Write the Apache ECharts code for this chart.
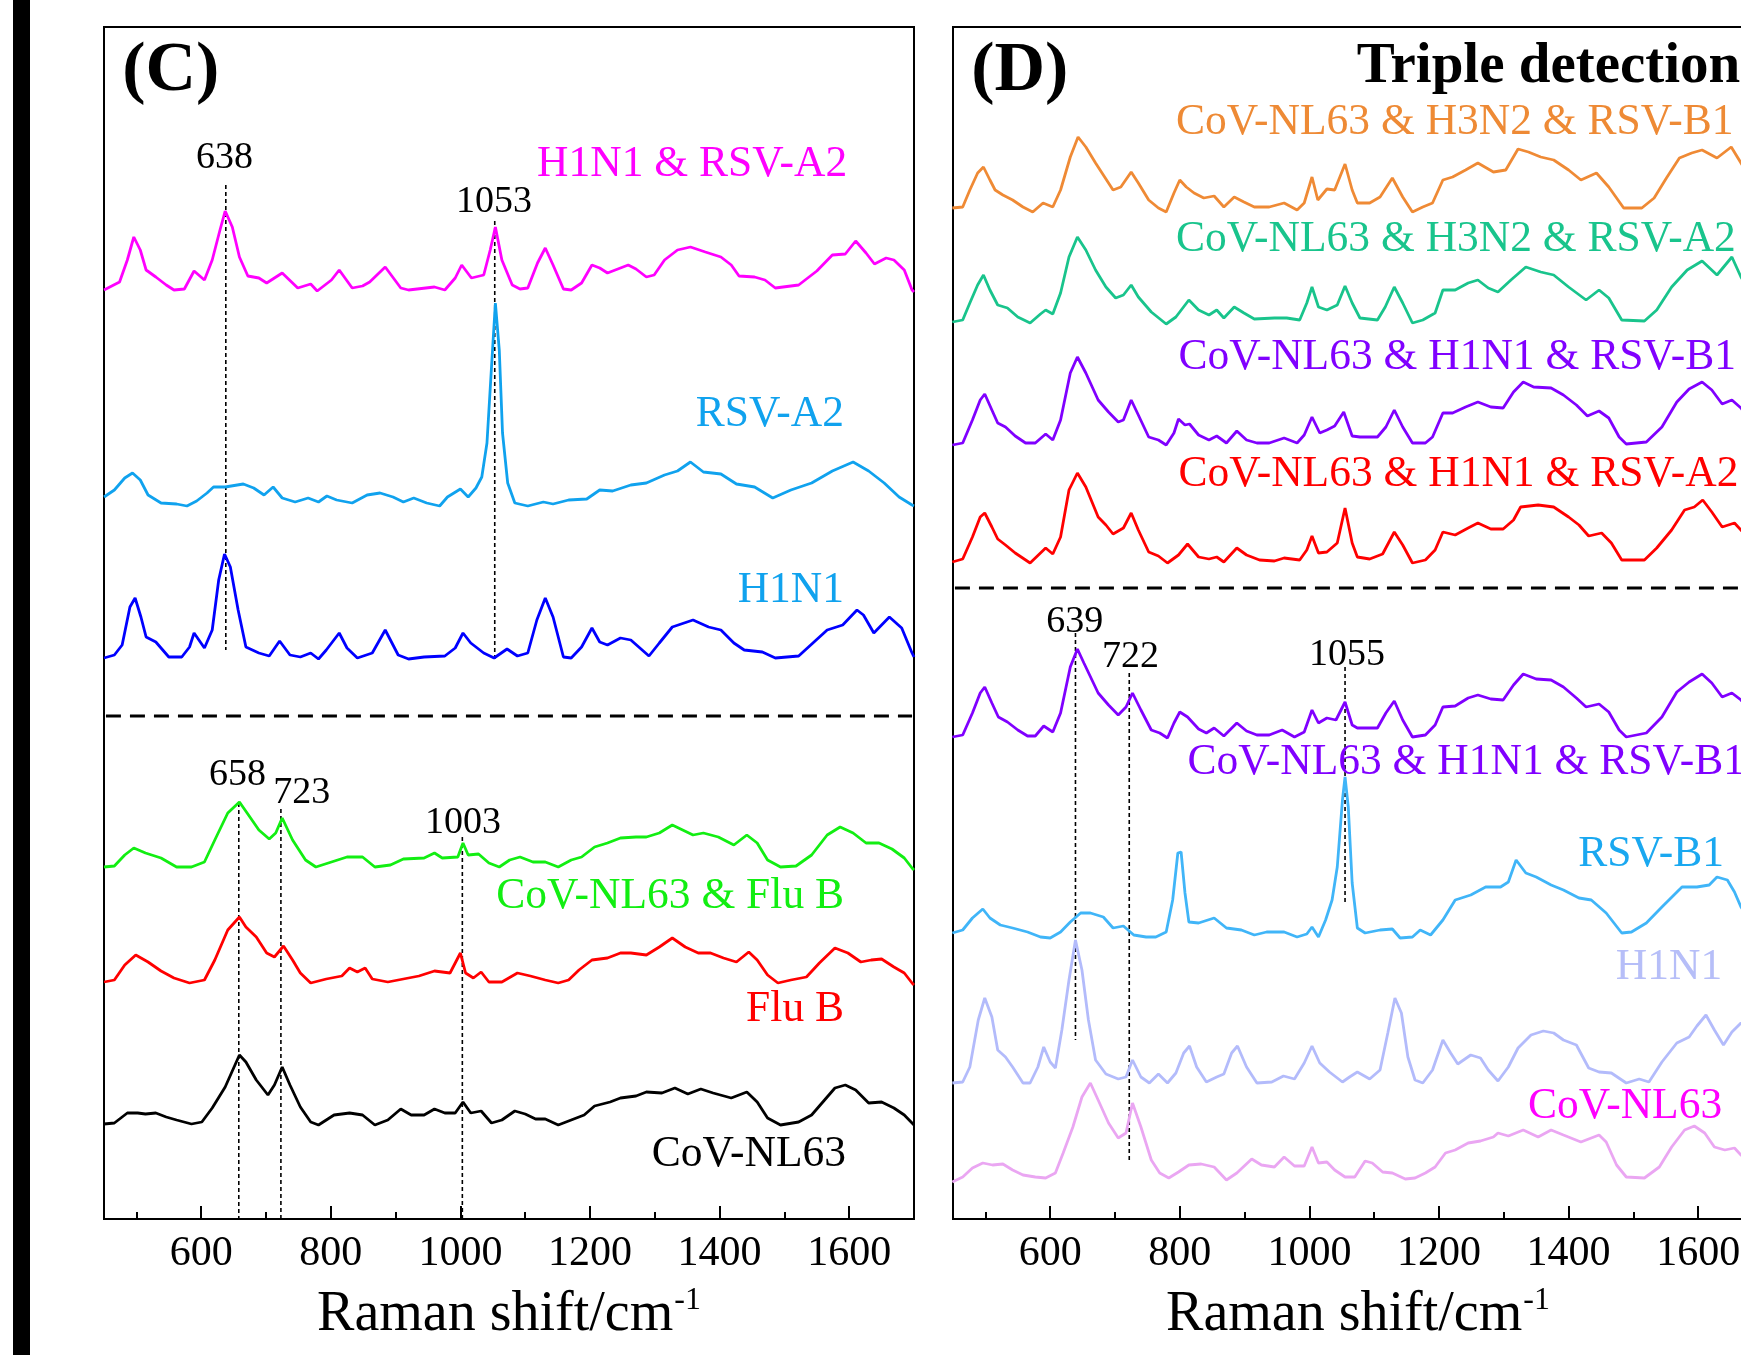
<!DOCTYPE html>
<html>
<head>
<meta charset="utf-8">
<title>Raman spectra</title>
<script src="https://cdn.jsdelivr.net/npm/echarts@6/dist/echarts.min.js"></script>
<style>
  html, body { margin: 0; padding: 0; background: #fff; }
  #chart { width: 1741px; height: 1355px; }
</style>
</head>
<body>
<div id="chart"></div>
<script>
// ---- Panel C spectra: [Raman shift (cm-1), offset intensity (a.u.)] ----
const cH1N1_RSVA2 = [[450,929],[474,937],[486,959],[496,982],[506,969],[515,949],[530,942],[546,934],[558,929],[574,930],[589,948],[605,939],[617,959],[629,989],[637,1008],[648,992],[659,962],[672,943],[689,941],[701,936],[725,946],[749,931],[769,935],[779,928],[801,939],[813,949],[833,931],[849,933],[860,937],[884,952],[908,931],[920,929],[960,932],[976,929],[992,941],[1002,954],[1017,941],[1036,944],[1046,969],[1054,992],[1064,959],[1080,934],[1092,930],[1104,931],[1119,956],[1131,971],[1143,954],[1159,930],[1171,929],[1187,936],[1203,954],[1215,951],[1227,946],[1259,954],[1271,950],[1287,942],[1299,944],[1315,959],[1335,969],[1355,972],[1378,967],[1402,962],[1418,954],[1430,943],[1454,942],[1470,939],[1486,931],[1522,934],[1550,948],[1574,964],[1594,965],[1610,978],[1626,966],[1639,955],[1657,961],[1669,959],[1685,949],[1697,929],[1700,927]];
const cRSVA2 = [[450,722],[466,729],[482,741],[494,746],[506,739],[518,724],[538,716],[562,715],[578,713],[593,718],[609,726],[619,732],[637,732],[665,735],[681,731],[697,724],[711,732],[725,721],[745,717],[765,721],[781,717],[794,723],[809,719],[833,716],[856,724],[876,726],[896,722],[912,717],[928,721],[948,716],[968,713],[980,722],[1000,730],[1012,722],[1024,731],[1033,742],[1041,776],[1048,852],[1054,916],[1060,869],[1065,786],[1073,736],[1084,716],[1104,713],[1128,717],[1143,715],[1167,719],[1195,720],[1215,729],[1235,728],[1263,734],[1287,736],[1315,744],[1335,748],[1355,757],[1375,747],[1402,745],[1426,735],[1454,732],[1482,721],[1510,729],[1542,736],[1574,748],[1606,757],[1630,748],[1654,736],[1677,722],[1697,714],[1700,713]];
const cH1N1 = [[450,561],[466,564],[478,574],[490,612],[498,621],[507,602],[515,582],[530,577],[550,562],[570,562],[582,572],[589,586],[605,571],[617,589],[627,639],[636,665],[645,652],[657,609],[669,572],[689,566],[705,563],[721,578],[737,564],[753,562],[769,566],[781,560],[793,569],[813,586],[825,571],[841,561],[864,566],[884,589],[904,564],[920,560],[944,562],[976,563],[992,571],[1004,586],[1016,576],[1036,566],[1052,561],[1072,570],[1088,563],[1104,566],[1118,599],[1131,621],[1143,602],[1159,562],[1171,561],[1187,572],[1203,591],[1215,577],[1227,574],[1247,581],[1263,579],[1291,563],[1307,576],[1327,592],[1359,599],[1383,592],[1402,589],[1422,576],[1438,569],[1466,567],[1486,561],[1522,563],[1566,589],[1590,594],[1612,609],[1622,604],[1638,586],[1662,602],[1681,591],[1697,566],[1700,562]];
const cNL63_FluB = [[450,352],[466,353],[482,364],[496,371],[514,366],[538,361],[562,352],[585,352],[605,357],[621,379],[641,406],[659,417],[673,404],[689,389],[705,380],[715,386],[725,401],[741,379],[761,359],[777,352],[801,357],[825,362],[849,362],[868,352],[892,354],[912,360],[944,361],[960,366],[972,361],[996,362],[1004,376],[1012,364],[1028,365],[1044,356],[1060,352],[1076,359],[1092,362],[1112,357],[1131,357],[1151,352],[1171,359],[1187,362],[1207,372],[1227,376],[1247,381],[1271,382],[1287,382],[1307,386],[1327,394],[1343,389],[1359,384],[1375,386],[1398,382],[1422,374],[1442,384],[1458,376],[1474,359],[1494,352],[1518,353],[1542,364],[1566,384],[1586,392],[1606,386],[1626,376],[1646,376],[1666,370],[1685,361],[1697,351],[1700,349]];
const cFluB = [[450,237],[466,239],[482,254],[499,264],[518,257],[538,248],[558,241],[582,236],[605,239],[621,259],[641,289],[659,302],[669,292],[685,282],[701,266],[713,262],[727,273],[741,259],[753,246],[769,236],[793,240],[817,243],[829,251],[841,247],[853,251],[864,240],[888,237],[912,240],[936,243],[960,248],[984,246],[1000,266],[1008,246],[1020,241],[1032,247],[1044,237],[1064,237],[1088,246],[1108,243],[1131,239],[1151,236],[1167,239],[1183,249],[1203,259],[1227,261],[1247,266],[1263,266],[1287,264],[1307,272],[1327,281],[1347,272],[1367,266],[1386,266],[1406,261],[1426,257],[1445,267],[1458,259],[1474,244],[1490,236],[1510,239],[1534,242],[1554,256],[1578,271],[1598,266],[1618,257],[1634,259],[1650,260],[1669,252],[1685,246],[1697,236],[1700,234]];
const cNL63 = [[450,95],[466,96],[486,106],[502,106],[514,105],[530,106],[546,102],[562,99],[585,95],[601,97],[617,111],[637,132],[659,164],[669,157],[685,139],[703,124],[713,134],[725,152],[737,134],[753,112],[769,97],[781,94],[805,104],[829,106],[849,104],[868,94],[888,99],[908,110],[924,104],[944,104],[960,110],[976,106],[992,106],[1004,117],[1016,106],[1032,108],[1048,96],[1064,99],[1084,108],[1100,105],[1116,100],[1131,100],[1151,94],[1171,99],[1191,104],[1207,113],[1231,117],[1247,121],[1271,123],[1287,127],[1311,126],[1331,131],[1351,125],[1371,130],[1390,126],[1418,121],[1442,127],[1458,117],[1474,101],[1494,94],[1522,97],[1542,104],[1562,119],[1578,131],[1594,134],[1610,129],[1630,116],[1650,117],[1669,111],[1685,104],[1697,96],[1700,94]];

// ---- Panel D spectra ----
const dNL63_H3N2_RSVB1 = [[449,1011],[465,1012],[476,1029],[488,1046],[497,1052],[507,1039],[515,1029],[527,1024],[542,1019],[558,1012],[573,1007],[589,1016],[604,1012],[616,1029],[631,1062],[643,1082],[655,1072],[670,1056],[682,1044],[697,1029],[709,1032],[725,1047],[736,1036],[752,1019],[767,1011],[779,1007],[791,1026],[800,1039],[810,1032],[822,1026],[837,1021],[853,1023],[868,1012],[884,1022],[899,1017],[915,1012],[938,1012],[961,1016],[981,1009],[992,1016],[1004,1042],[1013,1019],[1027,1030],[1039,1029],[1055,1055],[1066,1029],[1074,1016],[1093,1016],[1109,1022],[1128,1041],[1144,1022],[1159,1007],[1175,1012],[1190,1016],[1206,1039],[1221,1042],[1241,1049],[1260,1056],[1284,1047],[1303,1049],[1322,1070],[1338,1067],[1357,1062],[1377,1059],[1400,1049],[1419,1039],[1443,1046],[1462,1032],[1485,1011],[1513,1011],[1532,1021],[1551,1041],[1571,1061],[1590,1066],[1606,1069],[1629,1061],[1651,1072],[1666,1056],[1690,1030]];
const dNL63_H3N2_RSVA2 = [[449,897],[465,899],[476,916],[488,934],[497,944],[507,929],[519,914],[534,911],[550,902],[569,896],[585,905],[593,909],[604,905],[616,926],[629,962],[642,982],[655,969],[670,949],[686,932],[701,921],[713,924],[725,934],[736,922],[756,907],[779,895],[794,902],[814,919],[829,909],[845,904],[857,909],[868,901],[884,912],[899,906],[915,900],[946,901],[965,901],[985,899],[996,916],[1004,932],[1014,912],[1027,909],[1043,914],[1055,933],[1066,916],[1078,901],[1105,899],[1117,912],[1131,932],[1144,916],[1159,896],[1175,899],[1194,906],[1206,929],[1225,929],[1245,936],[1260,939],[1276,931],[1291,927],[1311,939],[1334,952],[1357,947],[1377,944],[1400,932],[1427,919],[1447,929],[1462,921],[1482,899],[1517,898],[1536,909],[1559,932],[1583,949],[1606,958],[1629,944],[1652,962],[1666,942],[1690,915]];
const dNL63_H1N1_RSVB1 = [[449,774],[465,776],[480,799],[492,819],[499,825],[510,809],[519,796],[531,792],[546,783],[562,776],[577,776],[593,785],[604,779],[616,799],[631,846],[642,862],[655,846],[674,819],[690,807],[705,797],[713,799],[725,819],[736,804],[752,782],[767,779],[779,774],[791,786],[798,800],[808,794],[815,795],[829,784],[845,779],[857,783],[872,776],[888,788],[903,779],[919,776],[938,776],[961,781],[981,776],[992,784],[1004,802],[1016,786],[1027,789],[1039,793],[1053,807],[1066,783],[1078,782],[1105,782],[1118,792],[1131,809],[1144,792],[1159,776],[1179,776],[1190,782],[1206,806],[1221,806],[1241,812],[1260,817],[1280,812],[1299,811],[1315,827],[1330,837],[1346,832],[1373,831],[1392,824],[1412,814],[1429,803],[1447,808],[1462,801],[1478,782],[1489,775],[1520,777],[1544,792],[1567,817],[1586,830],[1606,837],[1621,829],[1637,815],[1652,819],[1666,811],[1690,790]];
const dNL63_H1N1_RSVA2 = [[449,657],[465,660],[480,682],[492,702],[499,706],[510,692],[519,680],[531,674],[546,666],[569,656],[585,666],[593,671],[604,665],[616,682],[629,729],[642,746],[655,732],[674,702],[686,694],[697,685],[713,691],[725,706],[736,689],[752,667],[767,663],[781,656],[798,664],[812,675],[829,662],[845,660],[857,662],[868,657],[888,671],[903,664],[923,659],[946,658],[961,661],[985,659],[996,669],[1004,683],[1014,666],[1027,667],[1043,676],[1055,711],[1066,676],[1074,662],[1093,660],[1113,665],[1131,687],[1144,674],[1159,656],[1179,659],[1194,669],[1206,687],[1225,684],[1245,691],[1260,696],[1280,690],[1299,690],[1315,699],[1326,712],[1353,714],[1377,712],[1400,702],[1416,694],[1431,683],[1451,686],[1466,676],[1482,659],[1517,659],[1536,671],[1559,689],[1579,709],[1594,712],[1607,719],[1621,707],[1637,692],[1656,696],[1666,689],[1690,670]];
const dNL63_H1N1_RSVB1_ref = [[449,482],[465,484],[480,506],[492,526],[499,532],[510,516],[520,502],[534,497],[550,489],[565,483],[577,483],[590,493],[604,487],[616,506],[631,552],[642,570],[652,556],[674,526],[690,514],[705,504],[717,512],[727,526],[740,509],[756,489],[769,486],[781,481],[791,496],[800,507],[812,502],[829,490],[841,486],[853,491],[868,483],[888,496],[903,488],[919,484],[938,484],[958,489],[977,482],[992,487],[1004,509],[1014,496],[1027,501],[1041,499],[1055,517],[1066,494],[1074,491],[1105,491],[1118,506],[1131,518],[1144,499],[1159,482],[1179,484],[1194,494],[1206,512],[1225,513],[1245,521],[1260,524],[1280,520],[1299,519],[1315,534],[1330,545],[1350,540],[1373,539],[1392,532],[1412,521],[1427,512],[1447,515],[1462,507],[1478,489],[1489,482],[1520,486],[1544,502],[1567,527],[1586,537],[1606,545],[1621,536],[1637,522],[1652,526],[1666,519],[1690,500]];
const dRSVB1 = [[449,286],[465,289],[480,301],[496,310],[507,301],[523,294],[542,291],[565,287],[585,282],[600,281],[616,287],[631,297],[647,306],[662,306],[682,302],[697,291],[713,293],[729,284],[748,282],[763,282],[779,287],[789,319],[797,366],[802,367],[808,326],[814,297],[829,296],[853,301],[872,291],[895,289],[915,284],[934,287],[961,287],[981,282],[996,285],[1004,292],[1014,282],[1025,299],[1035,319],[1043,352],[1051,419],[1055,442],[1060,412],[1066,336],[1074,291],[1086,286],[1109,289],[1128,290],[1140,281],[1159,282],[1171,289],[1187,284],[1206,299],[1225,319],[1249,324],[1272,332],[1295,332],[1307,337],[1319,359],[1334,346],[1350,342],[1373,334],[1392,329],[1416,321],[1435,319],[1458,306],[1482,286],[1497,287],[1520,296],[1544,312],[1575,332],[1598,332],[1617,334],[1629,342],[1645,339],[1656,327],[1666,312],[1690,290]];
const dH1N1 = [[449,136],[465,137],[476,152],[489,199],[499,221],[510,202],[519,169],[531,162],[542,152],[558,136],[569,136],[581,152],[590,172],[600,157],[608,151],[618,189],[629,239],[639,279],[649,249],[659,199],[670,159],[686,145],[705,140],[717,142],[727,159],[740,142],[753,136],[767,145],[781,136],[794,146],[806,166],[815,173],[826,152],[841,137],[857,142],[868,145],[880,166],[889,173],[903,152],[919,136],[942,137],[960,143],[977,140],[992,156],[1004,173],[1016,156],[1031,147],[1051,137],[1062,142],[1074,147],[1093,140],[1109,149],[1121,186],[1132,221],[1142,206],[1152,162],[1163,139],[1175,136],[1190,149],[1206,179],[1218,166],[1229,155],[1249,164],[1264,161],[1276,149],[1291,138],[1307,152],[1322,171],[1342,184],[1361,188],[1377,186],[1392,179],[1412,174],[1431,151],[1447,147],[1466,146],[1489,136],[1509,140],[1524,137],[1544,157],[1567,176],[1586,182],[1598,193],[1612,204],[1625,189],[1639,174],[1652,187],[1666,196],[1690,180]];
const dNL63 = [[449,37],[465,42],[480,51],[496,56],[511,54],[527,55],[542,49],[558,44],[577,42],[593,41],[608,46],[620,66],[635,92],[649,122],[662,136],[674,119],[690,96],[705,81],[717,86],[727,116],[740,92],[756,59],[769,46],[783,41],[798,47],[814,54],[833,55],[853,52],[872,39],[888,46],[911,60],[926,54],[946,52],[961,62],[977,53],[992,53],[1004,72],[1014,56],[1027,57],[1039,49],[1055,42],[1070,42],[1086,58],[1097,56],[1113,47],[1128,46],[1148,40],[1163,41],[1179,46],[1194,52],[1210,66],[1225,69],[1245,76],[1264,78],[1284,82],[1291,86],[1307,83],[1330,89],[1353,82],[1373,89],[1392,84],[1419,77],[1447,84],[1458,77],[1474,54],[1489,42],[1517,41],[1540,52],[1559,72],[1579,89],[1594,93],[1610,86],[1625,72],[1641,69],[1656,71],[1666,64],[1690,55]];

// ---- Annotated peak positions and guide-line extents [shift, from, to] ----
const peaksC = [[638,1034,569],[1053,998,559],[658,416,0],[723,410,0],[1003,382,0]];
const peaksD = [[639,586,179],[722,546,56],[1055,552,317]];
const dividerC = 503;
const dividerD = 631;

// ---- Axis ticks ----
const majorTicks = [600, 800, 1000, 1200, 1400, 1600];
const minorTicks = [500, 700, 900, 1100, 1300, 1500, 1700];

// ---- Text annotations: [text, shift, intensity] ----
const textC = [
  ['(C)', 478, 1147], ['638', 636, 1061], ['1053', 1052, 1017],
  ['H1N1 & RSV-A2', 1597, 1054], ['RSV-A2', 1592, 804], ['H1N1', 1592, 628],
  ['658', 656, 444], ['723', 755, 426], ['1003', 1004, 396],
  ['CoV-NL63 & Flu B', 1592, 322], ['Flu B', 1592, 209], ['CoV-NL63', 1595, 64]
];
const textD = [
  ['(D)', 478, 1147], ['Triple detection', 1073, 1152],
  ['CoV-NL63 & H3N2 & RSV-B1', 794, 1096], ['CoV-NL63 & H3N2 & RSV-A2', 794, 979],
  ['CoV-NL63 & H1N1 & RSV-B1', 798, 861], ['CoV-NL63 & H1N1 & RSV-A2', 798, 744],
  ['639', 638, 597], ['722', 724, 562], ['1055', 1058, 564],
  ['CoV-NL63 & H1N1 & RSV-B1', 812, 456], ['RSV-B1', 1640, 364],
  ['H1N1', 1637, 251], ['CoV-NL63', 1637, 112]
];

const FONT = '"Liberation Serif", "Times New Roman", serif';

// Per-text styling: colour, alignment, size, weight
const textStyleC = [
  ['#000', 'left', 70, 'bold'], ['#000', 'center', 38], ['#000', 'center', 38],
  ['#ff00ff', 'right', 43.5], ['#10a2ee', 'right', 43.5], ['#10a2ee', 'right', 43.5],
  ['#000', 'center', 38], ['#000', 'center', 38], ['#000', 'center', 38],
  ['#12ee12', 'right', 43.5], ['#ff0000', 'right', 43.5], ['#000', 'right', 43.5]
];
const textStyleD = [
  ['#000', 'left', 70, 'bold'], ['#000', 'left', 57, 'bold'],
  ['#ee8a35', 'left', 43.5], ['#19c48c', 'left', 43.5],
  ['#8000ff', 'left', 43.5], ['#ff0000', 'left', 43.5],
  ['#000', 'center', 38], ['#000', 'center', 38], ['#000', 'center', 38],
  ['#8000ff', 'left', 43.5], ['#1aa8f0', 'right', 43.5],
  ['#b6bef8', 'right', 43.5], ['#ff00ff', 'right', 43.5]
];

function spectrum(data, color, xi, yi) {
  return {
    type: 'line', data: data, xAxisIndex: xi, yAxisIndex: yi,
    symbol: 'none', silent: true, animation: false,
    lineStyle: { color: color, width: 2.8 }
  };
}
function guide(x, y0, y1, xi, yi) {
  return {
    type: 'line', data: [[x, y0], [x, y1]], xAxisIndex: xi, yAxisIndex: yi,
    symbol: 'none', silent: true, animation: false, z: 1,
    lineStyle: { color: '#000', width: 1.6, type: [4, 3] }
  };
}
function divider(y, xi, yi) {
  return {
    type: 'line', data: [[453, y], [1697, y]], xAxisIndex: xi, yAxisIndex: yi,
    symbol: 'none', silent: true, animation: false,
    lineStyle: { color: '#000', width: 3, type: [15, 9] }
  };
}

function mainX(gi) {
  return {
    gridIndex: gi, type: 'value', min: 450, max: 1700,
    axisLine: { show: true, onZero: false, lineStyle: { color: '#000', width: 2 } },
    axisTick: { show: true, inside: true, length: 13, customValues: majorTicks,
      lineStyle: { color: '#000', width: 2 } },
    axisLabel: { show: true, customValues: majorTicks, margin: 14, color: '#000',
      fontSize: 42, fontFamily: FONT, formatter: function (v) { return String(v); } },
    splitLine: { show: false },
    name: '{a|Raman shift/cm}{b|-1}', nameLocation: 'middle', nameGap: 64,
    nameTextStyle: {
      color: '#000', fontFamily: FONT, fontSize: 56,
      rich: {
        a: { fontSize: 56, fontFamily: FONT, color: '#000', lineHeight: 60, verticalAlign: 'bottom' },
        b: { fontSize: 32, fontFamily: FONT, color: '#000', lineHeight: 60, verticalAlign: 'bottom', padding: [0, 0, 26, 1] }
      }
    }
  };
}
function minorX(gi) {
  return {
    gridIndex: gi, type: 'value', min: 450, max: 1700, position: 'bottom',
    axisLine: { show: false },
    axisTick: { show: true, inside: true, length: 7, customValues: minorTicks,
      lineStyle: { color: '#000', width: 2 } },
    axisLabel: { show: false }, splitLine: { show: false }
  };
}
function hiddenY(gi) {
  return { gridIndex: gi, type: 'value', min: 0, max: 1192, show: false };
}

const chart = echarts.init(document.getElementById('chart'), null, { renderer: 'canvas' });

const series = [];
[[cH1N1_RSVA2, '#ff00ff'], [cRSVA2, '#10a2ee'], [cH1N1, '#0000ff'],
 [cNL63_FluB, '#12ee12'], [cFluB, '#ff0000'], [cNL63, '#000000']]
  .forEach(function (p) { series.push(spectrum(p[0], p[1], 0, 0)); });
[[dNL63_H3N2_RSVB1, '#ef8a35'], [dNL63_H3N2_RSVA2, '#19c48c'],
 [dNL63_H1N1_RSVB1, '#8000ff'], [dNL63_H1N1_RSVA2, '#ff0000'],
 [dNL63_H1N1_RSVB1_ref, '#8000ff'], [dRSVB1, '#40b5f8'],
 [dH1N1, '#b3bbfb'], [dNL63, '#eaa6f2']]
  .forEach(function (p) { series.push(spectrum(p[0], p[1], 2, 1)); });
peaksC.forEach(function (p) { series.push(guide(p[0], p[1], p[2], 0, 0)); });
peaksD.forEach(function (p) { series.push(guide(p[0], p[1], p[2], 2, 1)); });
series.push(divider(dividerC, 0, 0));
series.push(divider(dividerD, 2, 1));

// Panel D runs past the right edge of the canvas, so the grids keep their
// exact rectangles instead of being fitted inside the container.
chart.setOption({
  backgroundColor: '#fff',
  animation: false,
  grid: [
    { left: 104, top: 27, width: 810, height: 1192, outerBoundsMode: 'none', containLabel: false,
      show: true, borderColor: '#000', borderWidth: 2, backgroundColor: 'transparent' },
    { left: 953, top: 27, width: 810, height: 1192, outerBoundsMode: 'none', containLabel: false,
      show: true, borderColor: '#000', borderWidth: 2, backgroundColor: 'transparent' }
  ],
  xAxis: [mainX(0), minorX(0), mainX(1), minorX(1)],
  yAxis: [hiddenY(0), hiddenY(1)],
  series: series
});

// Annotations placed in data coordinates through each panel's scales
function annotate(list, styles, xi, yi) {
  return list.map(function (t, i) {
    const s = styles[i];
    const p = chart.convertToPixel({ xAxisIndex: xi, yAxisIndex: yi }, [t[1], t[2]]);
    return {
      type: 'text', x: p[0], y: p[1], silent: true, z: 10,
      style: {
        text: t[0], fill: s[0], align: s[1], verticalAlign: 'middle',
        fontSize: s[2], fontWeight: s[3] || 'normal', fontFamily: FONT
      }
    };
  });
}

chart.setOption({
  graphic: [
    { type: 'rect', x: 13, y: 0, shape: { width: 17, height: 1355 }, style: { fill: '#000' }, silent: true }
  ].concat(annotate(textC, textStyleC, 0, 0), annotate(textD, textStyleD, 2, 1))
});
</script>
</body>
</html>
